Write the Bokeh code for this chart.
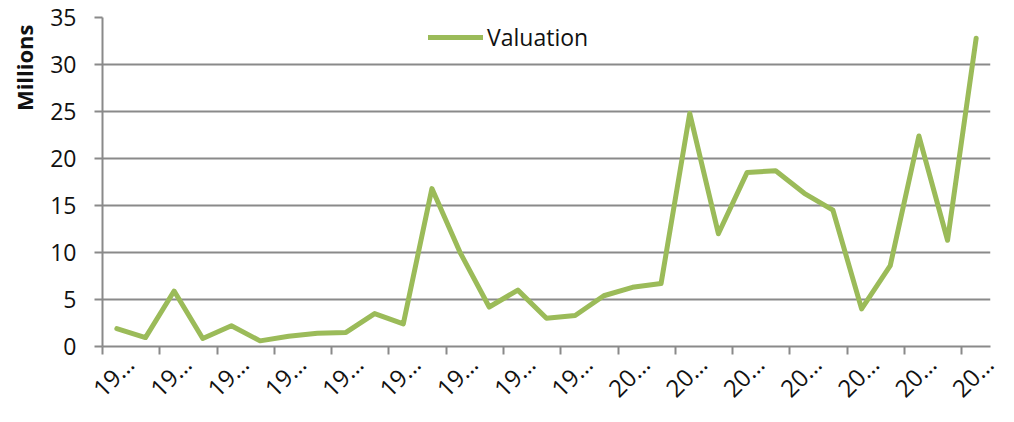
from math import pi
from bokeh.plotting import figure
from bokeh.models import LinearAxis, FixedTicker, Legend, LegendItem, Title, Range1d, ColumnDataSource
from bokeh.embed import file_html
from bokeh.resources import INLINE

# ---- data ----
years = ["1982", "1983", "1984", "1985", "1986", "1987", "1988", "1989", "1990", "1991",
         "1992", "1993", "1994", "1995", "1996", "1997", "1998", "1999", "2000", "2001",
         "2002", "2003", "2004", "2005", "2006", "2007", "2008", "2009", "2010", "2011", "2012"]
valuation = [1.9, 0.95, 5.9, 0.85, 2.2, 0.6, 1.1, 1.4, 1.5, 3.5,
             2.4, 16.8, 9.9, 4.2, 6.0, 3.0, 3.3, 5.4, 6.3, 6.7,
             24.8, 12.0, 18.5, 18.7, 16.3, 14.5, 4.0, 8.6, 22.4, 11.3, 32.8]
y_ticks = [0, 5, 10, 15, 20, 25, 30, 35]
series_name = "Valuation"
y_title = "Millions"

FONT = "Open Sans"
GRID = "#8a8a8a"
GREEN = "#9BBB59"

n = len(years)
xs = list(range(n))
src = ColumnDataSource(dict(x=xs, y=valuation, year=years))

p = figure(width=1006, height=422, output_backend="svg", toolbar_location=None,
           x_range=Range1d(-0.5, n - 0.5), y_range=Range1d(0, 35),
           x_axis_type=None, min_border_left=102, min_border_right=16,
           min_border_top=17, min_border_bottom=76)
p.outline_line_color = None
p.background_fill_color = "white"

# y axis
ya = p.yaxis[0]
ya.ticker = FixedTicker(ticks=y_ticks)
ya.axis_line_color = GRID
ya.axis_line_width = 2
ya.major_tick_line_color = GRID
ya.major_tick_line_width = 2
ya.major_tick_out = 8
ya.major_tick_in = 0
ya.minor_tick_line_color = None
ya.major_label_text_font = FONT
ya.major_label_text_font_size = "23px"
ya.major_label_text_color = "#111111"
ya.major_label_standoff = 18
p.ygrid.grid_line_color = GRID
p.ygrid.grid_line_width = 2

# x axis: labels at major positions, tick marks as minor ticks between category pairs
tick_marks = [i - 0.5 for i in range(0, n, 2)]
label_pos = [i + 0.4375 for i in range(0, n, 2)]
overrides = {pos: years[i][:2] + "…" for pos, i in zip(label_pos, range(0, n, 2))}
ax = LinearAxis(ticker=FixedTicker(ticks=label_pos, minor_ticks=tick_marks),
                major_label_overrides=overrides,
                axis_line_color=GRID, axis_line_width=2,
                major_tick_line_color=None,
                minor_tick_line_color=GRID, minor_tick_line_width=2,
                minor_tick_out=8, minor_tick_in=0, major_tick_out=8, major_tick_in=0,
                major_label_orientation=pi / 4, major_label_standoff=5,
                major_label_text_font=FONT, major_label_text_font_size="24px",
                major_label_text_color="#111111")
p.add_layout(ax, "below")

r = p.line("x", "y", source=src, line_color=GREEN, line_width=5, line_join="round", line_cap="round")

legend = Legend(items=[LegendItem(label=series_name, renderers=[r])], location=(326, 293),
                border_line_color=None, background_fill_alpha=0, glyph_width=55, glyph_height=20,
                label_standoff=4, padding=0, margin=0, label_text_font=FONT,
                label_text_font_size="23px", label_text_color="#111111")
p.add_layout(legend)

ttl = Title(text=y_title, align="right", vertical_align="middle", text_font=FONT,
            text_font_size="22px", text_font_style="bold", text_color="#111111",
            offset=7, standoff=15)
p.add_layout(ttl, "left")

open("out.html", "w").write(file_html(p, INLINE))
